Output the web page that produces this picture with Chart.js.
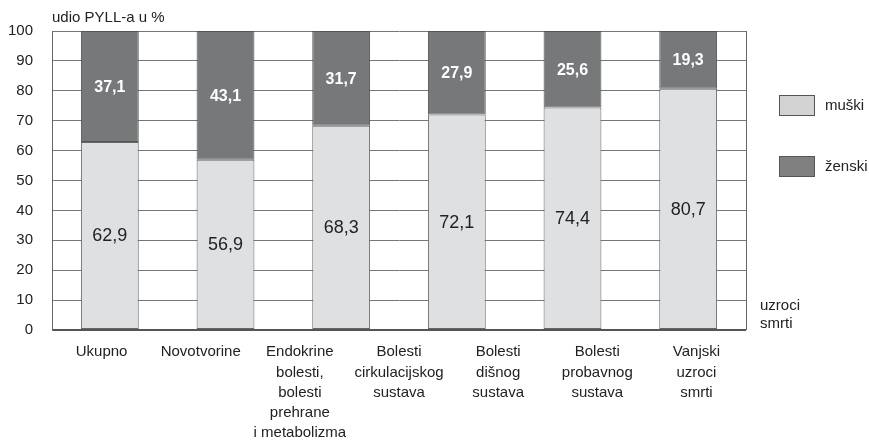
<!DOCTYPE html>
<html>
<head>
<meta charset="utf-8">
<script src="https://cdn.jsdelivr.net/npm/chart.js@4"></script>
<style>
  html, body { margin: 0; padding: 0; background: #fff; }
  #wrap { width: 869px; height: 440px; }
</style>
</head>
<body>
<div id="wrap"><canvas id="pyllChart" width="869" height="440"></canvas></div>
<script>
// bars (6 groups) and the axis labels underneath (7, as in the original figure)
const barGroups = ['Ukupno', 'Novotvorine', 'Endokrine', 'Cirkulacijski', 'Dišni', 'Vanjski'];
const muski = [62.9, 56.9, 68.3, 72.1, 74.4, 80.7];
const zenski = [37.1, 43.1, 31.7, 27.9, 25.6, 19.3];
const axisLabels = [
  ['Ukupno'],
  ['Novotvorine'],
  ['Endokrine', 'bolesti,', 'bolesti', 'prehrane', 'i metabolizma'],
  ['Bolesti', 'cirkulacijskog', 'sustava'],
  ['Bolesti', 'dišnog', 'sustava'],
  ['Bolesti', 'probavnog', 'sustava'],
  ['Vanjski', 'uzroci', 'smrti']
];
const yTicks = [0, 10, 20, 30, 40, 50, 60, 70, 80, 90, 100];

const FONT = '"Liberation Sans", Arial, sans-serif';
const fmt = v => v.toFixed(1).replace('.', ',');

// value labels, frame, legend, axis captions
const extras = {
  id: 'extras',
  afterDatasetsDraw(chart) {
    const c = chart.ctx;
    const a = chart.chartArea;
    c.save();
    c.textAlign = 'center';
    c.textBaseline = 'middle';
    chart.data.datasets.forEach((ds, di) => {
      chart.getDatasetMeta(di).data.forEach((bar, i) => {
        const mid = (bar.y + bar.base) / 2;
        if (di === 0) {
          c.font = '18px ' + FONT;
          c.fillStyle = '#222';
        } else {
          c.font = 'bold 16px ' + FONT;
          c.fillStyle = '#fff';
        }
        c.fillText(fmt(ds.data[i]), bar.x, mid + 1);
      });
    });
    // right frame line
    c.strokeStyle = '#666';
    c.lineWidth = 1;
    c.beginPath();
    c.moveTo(a.right + 0.5, a.top);
    c.lineTo(a.right + 0.5, a.bottom);
    c.stroke();
    c.restore();
  },
  afterDraw(chart) {
    const c = chart.ctx;
    const a = chart.chartArea;
    c.save();
    c.font = '15px ' + FONT;
    c.fillStyle = '#222';
    c.textBaseline = 'alphabetic';
    c.textAlign = 'left';
    c.fillText('udio PYLL-a u %', a.left, 22);
    c.fillText('uzroci', 760, 310);
    c.fillText('smrti', 760, 328);
    // legend
    const items = [
      { label: 'muški', color: '#d3d3d3', y: 95 },
      { label: 'ženski', color: '#808080', y: 156 }
    ];
    items.forEach(it => {
      c.fillStyle = it.color;
      c.fillRect(779.5, it.y + 0.5, 35, 20);
      c.strokeStyle = '#555';
      c.lineWidth = 1;
      c.strokeRect(779.5, it.y + 0.5, 35, 20);
      c.fillStyle = '#222';
      c.textBaseline = 'middle';
      c.fillText(it.label, 825, it.y + 11);
    });
    c.restore();
  }
};

new Chart(document.getElementById('pyllChart').getContext('2d'), {
  type: 'bar',
  data: {
    labels: barGroups,
    datasets: [
      {
        label: 'muški',
        data: muski,
        backgroundColor: '#dfe0e2',
        borderColor: '#666',
        borderWidth: 1,
        borderSkipped: false,
        barPercentage: 0.5,
        categoryPercentage: 1
      },
      {
        label: 'ženski',
        data: zenski,
        backgroundColor: '#77787a',
        borderColor: '#555',
        borderWidth: 1,
        borderSkipped: false,
        barPercentage: 0.5,
        categoryPercentage: 1
      }
    ]
  },
  options: {
    responsive: false,
    animation: false,
    layout: { padding: { top: 31, right: 123, left: 0, bottom: 0 } },
    plugins: {
      legend: { display: false },
      tooltip: { enabled: false }
    },
    scales: {
      x: {
        stacked: true,
        display: false
      },
      xLabels: {
        type: 'category',
        position: 'bottom',
        labels: axisLabels,
        offset: true,
        grid: { display: false, drawTicks: false },
        border: { display: false },
        ticks: {
          color: '#222',
          font: { family: FONT, size: 15, lineHeight: 1.35 },
          padding: 12,
          maxRotation: 0,
          autoSkip: false
        },
        afterFit(s) { s.height = 110; }
      },
      y: {
        stacked: true,
        min: 0,
        max: 100,
        afterBuildTicks(s) { s.ticks = yTicks.map(v => ({ value: v })); },
        grid: {
          color: ctx => ctx.tick && ctx.tick.value === 0 ? '#555' : '#777',
          lineWidth: ctx => ctx.tick && ctx.tick.value === 0 ? 2 : 1,
          drawTicks: false
        },
        border: { display: true, color: '#666', width: 1 },
        ticks: {
          color: '#222',
          font: { family: FONT, size: 15 },
          padding: 19
        },
        afterFit(s) { s.width = 52; }
      }
    }
  },
  plugins: [extras]
});
</script>
</body>
</html>
